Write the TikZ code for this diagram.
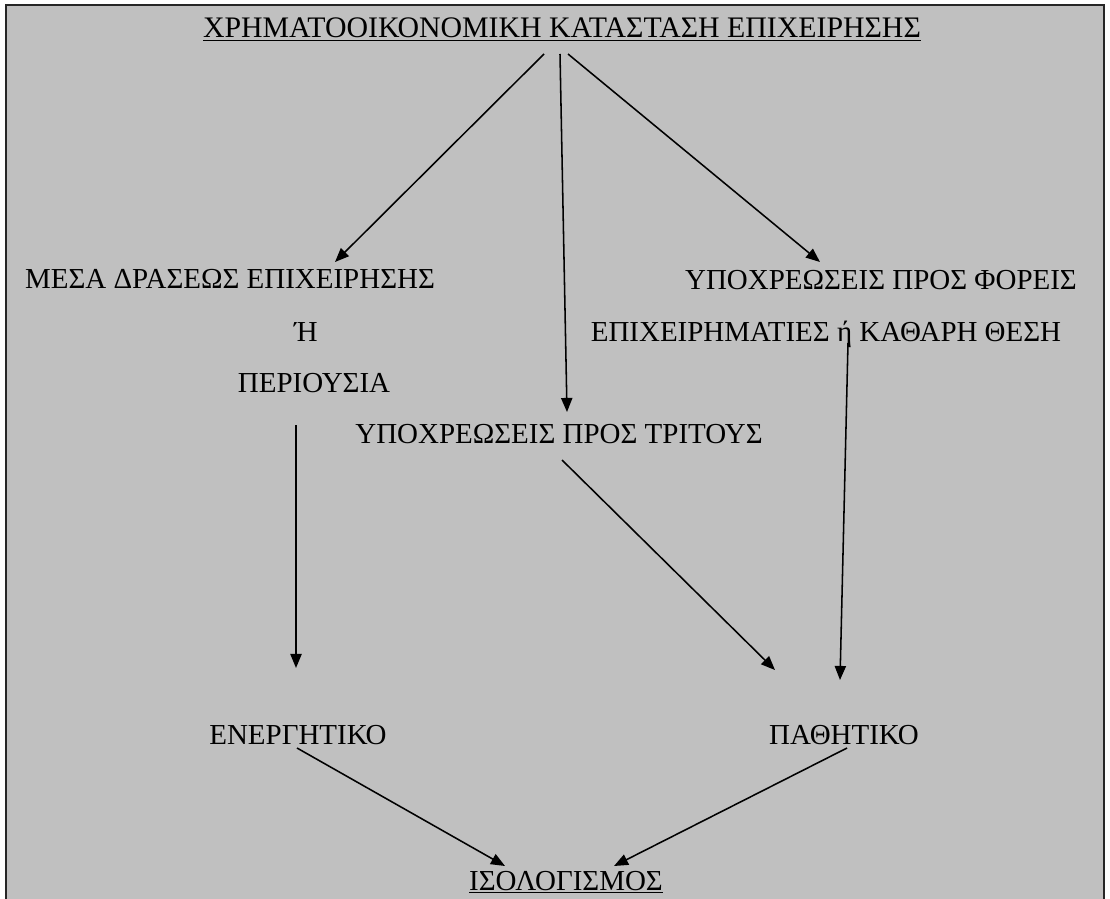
\documentclass[tikz,border=0pt]{standalone}
\usepackage{fontspec}
\setmainfont{Liberation Serif}
\usepackage{xcolor}
\usepackage{tikz}
\usetikzlibrary{calc,arrows.meta,positioning}
\definecolor{panelgray}{RGB}{192,192,192}

\begin{document}
\begin{tikzpicture}[x=0.025cm,y=-0.025cm,
  lbl/.style={inner sep=0pt,anchor=base,font=\fontsize{20.6pt}{24pt}\selectfont},
  arr/.style={-{Triangle[length=10pt,width=8pt]},line width=1.1pt}]
  \useasboundingbox (0,0) rectangle (1110,899);
  \clip (0,0) rectangle (1110,899); % the lower edge of the frame is cut off
  \filldraw[fill=panelgray,draw=black!85,line width=1.6pt] (6,5) rectangle (1104,930);

  \node[lbl] (title) at (562,38) {\underline{\fontsize{21.2pt}{24pt}\selectfont ΧΡΗΜΑΤΟΟΙΚΟΝΟΜΙΚΗ ΚΑΤΑΣΤΑΣΗ ΕΠΙΧΕΙΡΗΣΗΣ}};
  \node[lbl] (meas) at (230,288) {ΜΕΣΑ ΔΡΑΣΕΩΣ ΕΠΙΧΕΙΡΗΣΗΣ};
  \node[lbl] (eta) at (306,341) {Ή};
  \node[lbl] (peri) at (314,392) {ΠΕΡΙΟΥΣΙΑ};
  \node[lbl] (fore) at (881,289) {ΥΠΟΧΡΕΩΣΕΙΣ ΠΡΟΣ ΦΟΡΕΙΣ};
  \node[lbl] (epix) at (826,341) {ΕΠΙΧΕΙΡΗΜΑΤΙΕΣ ή ΚΑΘΑΡΗ ΘΕΣΗ};
  \node[lbl] (trit) at (559,443) {ΥΠΟΧΡΕΩΣΕΙΣ ΠΡΟΣ ΤΡΙΤΟΥΣ};
  \node[lbl] (ener) at (298,744) {ΕΝΕΡΓΗΤΙΚΟ};
  \node[lbl] (path) at (844,744) {ΠΑΘΗΤΙΚΟ};
  \node[lbl] (iso) at (566,890) {\underline{ΙΣΟΛΟΓΙΣΜΟΣ}};

  \draw[arr] ($(title.base)+(-18,16)$) -- ($(meas.base)+(105,-26)$);
  \draw[arr] ($(title.base)+(-2,16)$) -- ($(trit.base)+(8,-31)$);
  \draw[arr] ($(title.base)+(6,16)$) -- ($(fore.base)+(-61,-27)$);
  \draw[arr] ($(peri.base)+(-18,33)$) -- ($(ener.base)+(-2,-76)$);
  \draw[arr] ($(trit.base)+(3,17)$) -- ($(path.base)+(-69,-74)$);
  \draw[arr] ($(epix.base)+(22,2)$) -- ($(path.base)+(-4,-64)$);
  \draw[arr] ($(ener.base)+(-1,4)$) -- ($(iso.base)+(-61,-24)$);
  \draw[arr] ($(path.base)+(3,4)$) -- ($(iso.base)+(48,-24)$);
\end{tikzpicture}
\end{document}
